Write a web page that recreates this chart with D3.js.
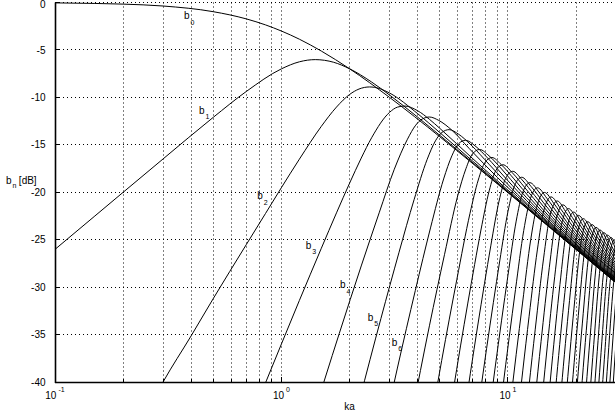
<!DOCTYPE html>
<html lang="en">
<head>
<meta charset="UTF-8">
<title>b_n [dB] vs ka</title>
<style>
    body { margin: 0; background: #fff; }
    svg { display: block; }
    text { font-family: "Liberation Sans", Arial, Helvetica, sans-serif; fill: #000; }
</style>
</head>
<body>
<script src="https://cdn.jsdelivr.net/npm/d3@7/dist/d3.min.js"></script>
<script>
    // axis values
    const xGrid = [0.2,0.3,0.4,0.5,0.6,0.7,0.8,0.9,1,2,3,4,5,6,7,8,9,10,20];
    const xDecades = [0.1, 1, 10];
    const xDecadeExp = ["-1", "0", "1"];
    const yTicks = [0,-5,-10,-15,-20,-25,-30,-35,-40];

    // curves b_n, points as [ka, dB]
    const b0 = [[0.1,-0.04],[0.15,-0.1],[0.2,-0.17],[0.3,-0.37],[0.5,-0.97],[0.7,-1.73],[0.85,-2.36],[1,-3.01],[1.2,-3.87],[1.5,-5.12],[2,-6.99],[3,-10],[5,-14.15],[7,-16.99],[10,-20.04],[15,-23.54],[20,-26.03],[30,-29.55]];
    const b1 = [[0.1,-26.02],[0.15,-22.5],[0.2,-20],[0.3,-16.49],[0.5,-12.1],[0.7,-9.37],[1,-6.99],[1.2,-6.25],[1.41,-6.02],[1.7,-6.3],[2,-6.99],[2.5,-8.38],[3,-9.75],[4,-12.1],[5,-14],[7,-16.9],[10,-20],[15,-23.52],[20,-26.02],[30,-29.54]];
    const b2 = [[0.29,-40.63],[0.3,-40],[0.4,-35.1],[0.5,-31.2],[0.7,-25.5],[0.85,-22.24],[1,-19.5],[1.2,-16.51],[1.5,-13.05],[1.75,-11.02],[2,-9.69],[2.2,-9.12],[2.45,-8.9],[2.7,-9.06],[3,-9.54],[4,-11.73],[5,-13.71],[7,-16.74],[10,-19.92],[15,-23.48],[20,-26],[30,-29.53]];
    const b3 = [[0.84,-40.4],[0.86,-39.8],[1,-35.98],[1.2,-31.4],[1.5,-25.9],[1.75,-22.17],[2,-19.03],[2.25,-16.4],[2.5,-14.26],[3,-11.58],[3.25,-11.03],[3.5,-10.91],[4,-11.42],[4.5,-12.31],[5,-13.26],[7,-16.47],[10,-19.78],[15,-23.43],[20,-25.97],[30,-29.52]];
    const b4 = [[1.35,-44.34],[1.8,-34.88],[2.25,-27.77],[2.7,-22.17],[3.15,-17.57],[3.6,-14.41],[3.915,-12.93],[4.185,-12.28],[4.5,-12.07],[4.95,-12.43],[5.625,-13.41],[6.75,-15.4],[9,-18.46],[13.5,-22.35],[20,-25.91],[30,-29.49]];
    const b5 = [[2.2,-42.09],[2.75,-33.29],[3.3,-26.38],[3.85,-20.79],[4.4,-16.53],[4.785,-14.58],[5.115,-13.69],[5.5,-13.4],[6.05,-13.88],[6.875,-15.02],[8.25,-17.05],[11,-20.2],[16.5,-24.09],[22,-26.71],[30,-29.47]];
    const b6 = [[2.6,-49.12],[3.25,-38.53],[3.9,-30.35],[4.55,-23.76],[5.2,-18.6],[5.655,-16.16],[6.045,-14.9],[6.5,-14.52],[7.15,-15.1],[8.125,-16.38],[9.75,-18.5],[13,-21.65],[19.5,-25.54],[30,-29.44]];
    const b7 = [[3.75,-43.64],[4.5,-34.08],[5.25,-26.54],[6,-20.38],[6.525,-17.51],[6.975,-15.95],[7.5,-15.49],[8.25,-16.16],[9.375,-17.55],[11.25,-19.75],[15,-22.9],[22.5,-26.79],[30,-29.4]];
    const b8 = [[4.25,-48.6],[5.1,-37.72],[5.95,-29.17],[6.8,-22.22],[7.395,-18.71],[7.905,-16.88],[8.5,-16.34],[9.35,-17.1],[10.625,-18.59],[12.75,-20.83],[17,-23.98],[25.5,-27.87],[30,-29.36]];
    const b9 = [[5.7,-41.26],[6.175,-36.2],[6.65,-31.68],[7.125,-27.63],[7.6,-23.98],[8.265,-19.85],[8.835,-17.72],[9.5,-17.1],[10.45,-17.94],[11.875,-19.52],[14.25,-21.8],[19,-24.95],[28.5,-28.84],[30,-29.31]];
    const b10 = [[6.3,-44.69],[6.825,-39.07],[7.35,-34.1],[7.875,-29.65],[8.4,-25.65],[9.135,-20.93],[9.765,-18.54],[10.5,-17.79],[11.55,-18.7],[13.125,-20.35],[15.75,-22.67],[21,-25.82],[30,-29.26]];
    const b11 = [[7.475,-41.9],[8.05,-36.45],[8.625,-31.6],[9.2,-27.24],[10.005,-22.02],[10.695,-19.31],[11.5,-18.42],[12.65,-19.39],[14.375,-21.12],[17.25,-23.46],[23,-26.61],[30,-29.2]];
    const b12 = [[8.125,-44.66],[8.75,-38.74],[9.375,-33.48],[10,-28.77],[10.875,-23.04],[11.625,-20],[12.5,-18.99],[13.75,-20.03],[15.625,-21.82],[18.75,-24.18],[25,-27.33],[30,-29.13]];
    const b13 = [[8.775,-47.37],[9.45,-40.98],[10.125,-35.32],[10.8,-30.25],[11.745,-24.02],[12.555,-20.7],[13.5,-19.53],[14.85,-20.63],[16.875,-22.47],[20.25,-24.85],[27,-28],[30,-29.05]];
    const b14 = [[10.15,-43.14],[10.875,-37.08],[11.6,-31.68],[12.615,-24.95],[13.485,-21.31],[14.5,-20.02],[15.95,-21.18],[18.125,-23.08],[21.75,-25.47],[29,-28.62],[30,-28.96]];
    const b15 = [[10.85,-45.3],[11.625,-38.83],[12.4,-33.07],[13.485,-26.08],[14.415,-21.88],[15.5,-20.49],[17.05,-21.71],[19.375,-23.64],[23.25,-26.05],[30,-28.87]];
    const b16 = [[11.55,-47.42],[12.375,-40.53],[13.2,-34.43],[14.355,-27.03],[15.345,-22.42],[16.5,-20.92],[18.15,-22.2],[20.625,-24.18],[24.75,-26.6],[30,-28.76]];
    const b17 = [[13.125,-42.18],[14,-35.75],[15.225,-27.96],[16.275,-22.97],[17.5,-21.33],[19.25,-22.66],[21.875,-24.69],[26.25,-27.11],[30,-28.64]];
    const b18 = [[13.875,-43.83],[14.8,-37.05],[16.095,-28.85],[17.205,-23.52],[18.5,-21.72],[20.35,-23.09],[23.125,-25.16],[27.75,-27.59],[30,-28.5]];
    const b19 = [[14.625,-45.46],[15.6,-38.32],[16.965,-29.73],[18.135,-24.05],[19.5,-22.09],[21.45,-23.52],[24.375,-25.61],[29.25,-28.05],[30,-28.35]];
    const b20 = [[15.375,-47.05],[16.4,-39.55],[17.835,-30.58],[19.065,-24.56],[20.5,-22.44],[22.55,-23.91],[25.625,-26.03],[30,-28.17]];
    const b21 = [[16.125,-48.6],[17.2,-40.78],[18.705,-31.4],[19.995,-25.06],[21.5,-22.78],[23.65,-24.3],[26.875,-26.44],[30,-27.98]];
    const b22 = [[18,-41.96],[19.575,-32.21],[20.925,-25.54],[22.5,-23.1],[24.75,-24.67],[28.125,-26.83],[30,-27.77]];
    const b23 = [[18.8,-43.15],[20.445,-33.01],[21.855,-26],[23.5,-23.41],[25.85,-25.02],[29.375,-27.21],[30,-27.54]];
    const b24 = [[19.6,-44.32],[21.315,-33.79],[22.785,-26.46],[24.5,-23.7],[26.95,-25.35],[30,-27.23]];
    const b25 = [[20.4,-45.48],[22.185,-34.54],[23.715,-26.9],[25.5,-23.98],[28.05,-25.67],[30,-26.87]];
    const b26 = [[21.2,-46.63],[23.055,-35.3],[24.645,-27.32],[26.5,-24.26],[29.15,-25.99],[30,-26.55]];
    const b27 = [[22,-47.76],[23.925,-36.04],[25.575,-27.78],[27.5,-24.52],[30,-26.11]];
    const b28 = [[22.8,-48.88],[24.795,-36.77],[26.505,-28.22],[28.5,-24.77],[30,-25.65]];
    const b29 = [[23.6,-49.99],[25.665,-37.49],[27.435,-28.65],[29.5,-25.02],[30,-25.21]];
    const b30 = [[24.4,-51.09],[26.535,-38.2],[28.365,-29.07],[30,-25.34]];
    const b31 = [[25.2,-52.19],[27.405,-38.9],[29.295,-29.49],[30,-27.12]];
    const b32 = [[26,-53.27],[28.275,-39.58],[30.225,-29.9]];
    const b33 = [[26.8,-54.4],[29.145,-40.26],[31.155,-30.29]];

    const curves = [b0,b1,b2,b3,b4,b5,b6,b7,b8,b9,b10,b11,b12,b13,b14,b15,b16,b17,
        b18,b19,b20,b21,b22,b23,b24,b25,b26,b27,b28,b29,b30,b31,b32,b33];

    // curve labels b_0 ... b_6 (position of the "b", in ka / dB)
    const labelIds = ["0","1","2","3","4","5","6"];
    const labelKa = [0.371,0.432,0.782,1.279,1.813,2.403,3.065];
    const labelDb = [-1.79,-11.75,-20.76,-25.98,-30.14,-33.54,-36.17];

    let width = 615;
    let height = 417;
    let plot = {left:55, right:616, top:2.5, bottom:382};

    let svg = d3.select("body").append("svg")
        .attr("width",width)
        .attr("height",height);

    let x = d3.scaleLog().domain([0.1,30]).range([plot.left,plot.right]);
    let y = d3.scaleLinear().domain([-40,0]).range([plot.bottom,plot.top]);
    let px = v => Math.floor(v) + 0.5;

    svg.append("clipPath").attr("id","clip")
        .append("rect")
        .attr("x",plot.left).attr("y",0)
        .attr("width",plot.right - plot.left)
        .attr("height",plot.bottom);

    // dotted grid
    let grid = svg.append("g")
        .attr("stroke","#000")
        .attr("stroke-width",1)
        .attr("stroke-dasharray","1,3");
    grid.selectAll("line.vx")
        .data(xGrid)
        .enter()
        .append("line")
        .attr("class","vx")
        .attr("x1",d => px(x(d)))
        .attr("x2",d => px(x(d)))
        .attr("y1",plot.top)
        .attr("y2",plot.bottom);
    grid.selectAll("line.hy")
        .data(yTicks.filter(d => d > -40))
        .enter()
        .append("line")
        .attr("class","hy")
        .attr("x1",plot.left)
        .attr("x2",width)
        .attr("y1",d => px(y(d)))
        .attr("y2",d => px(y(d)));

    // curves
    let line = d3.line()
        .x(d => x(d[0]))
        .y(d => y(d[1]))
        .curve(d3.curveMonotoneX);
    svg.append("g")
        .attr("clip-path","url(#clip)")
        .selectAll("path")
        .data(curves)
        .enter()
        .append("path")
        .attr("d",line)
        .attr("fill","none")
        .attr("stroke","#000")
        .attr("stroke-width",1);

    // axes lines and ticks
    let axes = svg.append("g").attr("stroke","#000");
    axes.append("line")
        .attr("x1",plot.left + 0.5).attr("x2",plot.left + 0.5)
        .attr("y1",plot.top).attr("y2",plot.bottom + 1)
        .attr("stroke-width",1.6);
    axes.append("line")
        .attr("x1",plot.left).attr("x2",width)
        .attr("y1",plot.bottom + 0.5).attr("y2",plot.bottom + 0.5)
        .attr("stroke-width",1.6);
    axes.selectAll("line.yt")
        .data(yTicks)
        .enter()
        .append("line")
        .attr("class","yt")
        .attr("x1",plot.left).attr("x2",plot.left + 5)
        .attr("y1",d => px(y(d))).attr("y2",d => px(y(d)));
    axes.selectAll("line.xt")
        .data(xGrid.concat(xDecades))
        .enter()
        .append("line")
        .attr("class","xt")
        .attr("x1",d => px(x(d))).attr("x2",d => px(x(d)))
        .attr("y1",plot.bottom)
        .attr("y2",d => plot.bottom - (xDecades.includes(d) ? 5 : 3));

    // y tick labels (top one kept inside the page)
    svg.append("g").selectAll("text")
        .data(yTicks)
        .enter()
        .append("text")
        .attr("x",45.5)
        .attr("y",d => Math.max(y(d) + 3.6, 8))
        .attr("text-anchor","end")
        .attr("font-size",10)
        .text(d => d);

    // x tick labels 10^n
    svg.append("g").selectAll("text")
        .data(xDecades)
        .enter()
        .append("text")
        .attr("x",d => x(d))
        .attr("y",399)
        .attr("text-anchor","middle")
        .attr("font-size",10)
        .each(function(d,i) {
            let t = d3.select(this);
            t.append("tspan").text("10");
            t.append("tspan").attr("dx",2).attr("dy",-7).attr("font-size",7).text(xDecadeExp[i]);
        });

    // axis titles
    svg.append("text")
        .attr("x",349.5).attr("y",410)
        .attr("text-anchor","middle")
        .attr("font-size",10)
        .text("ka");
    let yl = svg.append("text")
        .attr("x",6).attr("y",184)
        .attr("font-size",10);
    yl.append("tspan").text("b");
    yl.append("tspan").attr("dx",1).attr("dy",4).attr("font-size",7).text("n");
    yl.append("tspan").attr("dx",2.4).attr("dy",-4).text("[dB]");

    // curve labels
    svg.append("g").selectAll("text")
        .data(labelIds)
        .enter()
        .append("text")
        .attr("x",(d,i) => x(labelKa[i]))
        .attr("y",(d,i) => y(labelDb[i]))
        .attr("font-size",10)
        .each(function(d) {
            let t = d3.select(this);
            t.append("tspan").text("b");
            t.append("tspan").attr("dx",1).attr("dy",5.5).attr("font-size",7).text(d);
        });
</script>
</body>
</html>
